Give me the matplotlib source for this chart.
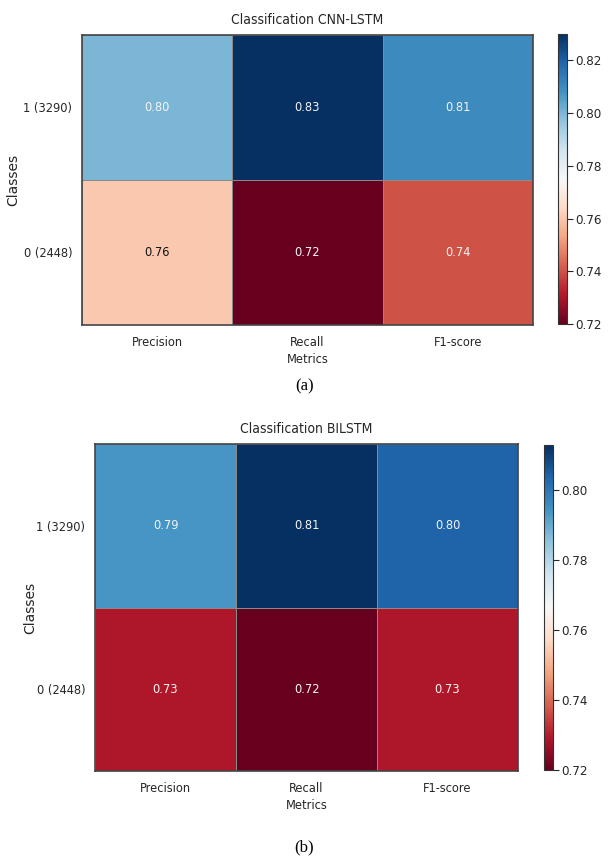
import numpy as np
import matplotlib
matplotlib.use("Agg")
import matplotlib.pyplot as plt
from matplotlib import colors, cm

plt.rcParams['font.family'] = ['DejaVu Sans']
plt.rcParams['font.stretch'] = 'condensed'

metrics = ["Precision", "Recall", "F1-score"]
classes = ["1 (3290)", "0 (2448)"]

# rows: class 1, class 0
cnn_lstm = [[0.80, 0.83, 0.81],
            [0.76, 0.72, 0.74]]
bilstm = [[0.794, 0.813, 0.804],
          [0.729, 0.72, 0.729]]

cmap = plt.get_cmap("RdBu")
TXT = "#262626"


def heatmap(ax, cax, data, title, cticks):
    data = np.array(data)
    norm = colors.Normalize(vmin=data.min(), vmax=data.max())
    ax.pcolormesh(data, cmap=cmap, norm=norm, edgecolor="#8a8a8a", linewidth=0.6)
    ax.set_xlim(0, data.shape[1])
    ax.set_ylim(data.shape[0], 0)
    for i in range(data.shape[0]):
        for j in range(data.shape[1]):
            r, g, b, _ = cmap(norm(data[i, j]))
            lum = 0.2126 * r + 0.7152 * g + 0.0722 * b
            ax.text(j + 0.5, i + 0.5, "%.2f" % data[i, j], ha="center", va="center",
                    fontsize=9.2, color="#111111" if lum > 0.75 else "#f4f4f4")
    ax.set_xticks(np.arange(data.shape[1]) + 0.5)
    ax.set_xticklabels(metrics)
    ax.set_yticks(np.arange(data.shape[0]) + 0.5)
    ax.set_yticklabels(classes)
    ax.tick_params(length=0, labelsize=9.2, colors=TXT)
    ax.tick_params(axis="y", pad=7)
    ax.tick_params(axis="x", pad=8)
    ax.set_xlabel("Metrics", fontsize=9.2, labelpad=3, color=TXT)
    ax.set_ylabel("Classes", fontsize=10, fontstretch="normal", color=TXT)
    ax.yaxis.set_label_coords(-0.136, 0.5)
    ax.set_title(title, fontsize=10, pad=8, color=TXT)
    for s in ax.spines.values():
        s.set_color("#444444")
        s.set_linewidth(1.2)
    cb = plt.colorbar(cm.ScalarMappable(norm=norm, cmap=cmap), cax=cax, ticks=cticks)
    cb.ax.tick_params(labelsize=9.5, length=4, colors=TXT, pad=2)
    cb.ax.set_yticklabels(["%.2f" % t for t in cticks])
    cb.outline.set_edgecolor("#333333")


fig = plt.figure(figsize=(6.09, 8.59), dpi=100)

ax1 = fig.add_axes([0.1346, 0.6217, 0.7406, 0.3376])
cax1 = fig.add_axes([0.9163, 0.6228, 0.0148, 0.3376])
heatmap(ax1, cax1, cnn_lstm, "Classification CNN-LSTM", [0.72, 0.74, 0.76, 0.78, 0.80, 0.82])

ax2 = fig.add_axes([0.156, 0.1024, 0.6946, 0.3807])
cax2 = fig.add_axes([0.8933, 0.1036, 0.0148, 0.3783])
heatmap(ax2, cax2, bilstm, "Classification BILSTM", [0.72, 0.74, 0.76, 0.78, 0.80])

fig.text(0.5, 0.5506, "(a)", ha="center", va="center", family="Liberation Serif",
         fontstretch="normal", fontsize=12)
fig.text(0.5, 0.0140, "(b)", ha="center", va="center", family="Liberation Serif",
         fontstretch="normal", fontsize=12)

fig.savefig("out.png", dpi=100)
